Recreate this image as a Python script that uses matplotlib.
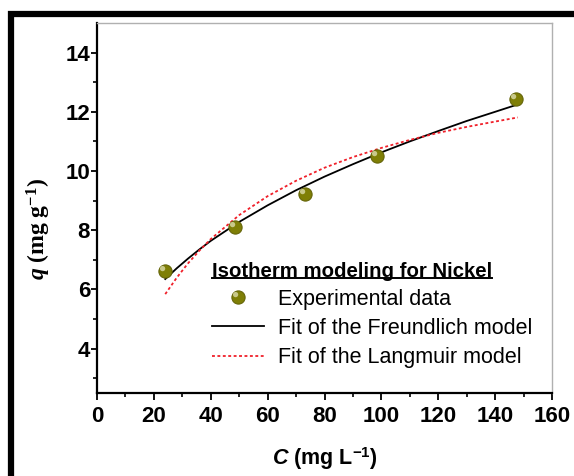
import numpy as np
import matplotlib
matplotlib.use("Agg")
import matplotlib.pyplot as plt
from matplotlib.markers import MarkerStyle
from matplotlib.transforms import Affine2D
from matplotlib.legend_handler import HandlerTuple
from matplotlib.lines import Line2D
from matplotlib.patches import Rectangle

plt.rcParams['font.family'] = ['Liberation Sans', 'DejaVu Sans']
plt.rcParams['mathtext.fontset'] = 'custom'
plt.rcParams['mathtext.rm'] = 'Liberation Serif:bold'
plt.rcParams['mathtext.it'] = 'Liberation Serif:italic:bold'
plt.rcParams['mathtext.sf'] = 'Liberation Sans:bold'
plt.rcParams['mathtext.bf'] = 'Liberation Sans:bold:italic'

# experimental points
c_exp = [23.9, 48.5, 73.2, 98.3, 147.3]
q_exp = [6.62, 8.12, 9.22, 10.50, 12.43]

# fitted curves
c_fit = [24, 28, 32, 36, 40, 50, 60, 70, 80, 90, 100, 110, 120, 130, 140, 148]
q_freundlich = [6.35, 6.71, 7.04, 7.35, 7.64, 8.28, 8.84, 9.35, 9.81, 10.23,
                10.63, 11.00, 11.35, 11.69, 12.00, 12.25]
q_langmuir = [5.84, 6.39, 6.88, 7.31, 7.70, 8.51, 9.15, 9.67, 10.11, 10.47,
              10.78, 11.05, 11.29, 11.49, 11.67, 11.81]

x_ticks = np.arange(0, 161, 20)
y_ticks = [4, 6, 8, 10, 12, 14]

fig = plt.figure(figsize=(5.74, 4.76), dpi=100)
ax = fig.add_axes([97/574, 1-393/476, 455/574, 370/476])

pts, = ax.plot(c_exp, q_exp, 'o', ms=9.5, mfc='#7f7f06', mec='#66660a', mew=0.8,
               zorder=4, label='Experimental data')
hl_marker = MarkerStyle('o', transform=Affine2D().translate(-0.55, 0.55))
hl, = ax.plot(c_exp, q_exp, ls='none', marker=hl_marker, ms=3.8,
              mfc='#c9c98a', mec='none', zorder=5)
fr, = ax.plot(c_fit, q_freundlich, '-', color='black', lw=1.3, zorder=3,
              label='Fit of the Freundlich model')
la, = ax.plot(c_fit, q_langmuir, color='#f0202a', lw=1.3, ls=(0, (1.6, 1.4)),
              zorder=3, label='Fit of the Langmuir model')

ax.set_xlim(0, 160)
ax.set_ylim(2.5, 15)
ax.set_xticks(x_ticks)
ax.set_yticks(y_ticks)
ax.set_xticks(np.arange(10, 160, 20), minor=True)
ax.set_yticks(np.arange(3, 15, 2), minor=True)
for lab in ax.get_xticklabels() + ax.get_yticklabels():
    lab.set_fontweight('bold')
    lab.set_fontsize(16)
ax.tick_params(axis='x', which='major', direction='out', length=5, width=1.3, pad=4)
ax.tick_params(axis='y', which='major', direction='out', length=4, width=1.3, pad=1)
ax.tick_params(which='minor', direction='out', length=3, width=1.2)
ax.tick_params(top=False, right=False)

for s in ['left', 'bottom']:
    ax.spines[s].set_linewidth(1.6)
    ax.spines[s].set_color('black')
for s in ['top', 'right']:
    ax.spines[s].set_linewidth(1.0)
    ax.spines[s].set_color('#b0b0b0')

ax.set_xlabel(r'$\mathbf{C}$ (mg L$^{\mathsf{-1}}$)', fontsize=15.5, fontweight='bold')
ax.set_ylabel(r'$\mathit{q}$ (mg g$^{\mathrm{-1}}$)', fontsize=17, fontweight='bold',
              family='Liberation Serif')
ax.xaxis.set_label_coords(0.5, -0.141)
ax.yaxis.set_label_coords(-0.097, 0.443)

leg = ax.legend([(pts, hl), fr, la],
                ['Experimental data', 'Fit of the Freundlich model', 'Fit of the Langmuir model'],
                handler_map={tuple: HandlerTuple(ndivide=1)},
                loc='upper left', bbox_to_anchor=(0.253, 0.355), frameon=False,
                fontsize=15.5, title='Isotherm modeling for Nickel',
                title_fontproperties={'weight': 'bold', 'size': 14.7},
                alignment='left', borderpad=0, borderaxespad=0,
                handlelength=2.4, handletextpad=0.65, labelspacing=0.38, numpoints=1)

# underline the legend title
fig.canvas.draw()
bb = leg.get_title().get_window_extent()
inv = fig.transFigure.inverted()
(x0, y0), (x1, _) = inv.transform([(bb.x0, bb.y0 + 2.5), (bb.x1, bb.y0 + 2.5)])
fig.add_artist(Line2D([x0, x1], [y0, y0], color='black', lw=1.4, transform=fig.transFigure))

# thick outer frame, cut at right and bottom
fig.add_artist(Rectangle((11/574, -0.2), 1.5, 1.2 - 13.5/476, fill=False,
                         lw=4.5, ec='black', transform=fig.transFigure))

fig.savefig('out.png', dpi=100)
